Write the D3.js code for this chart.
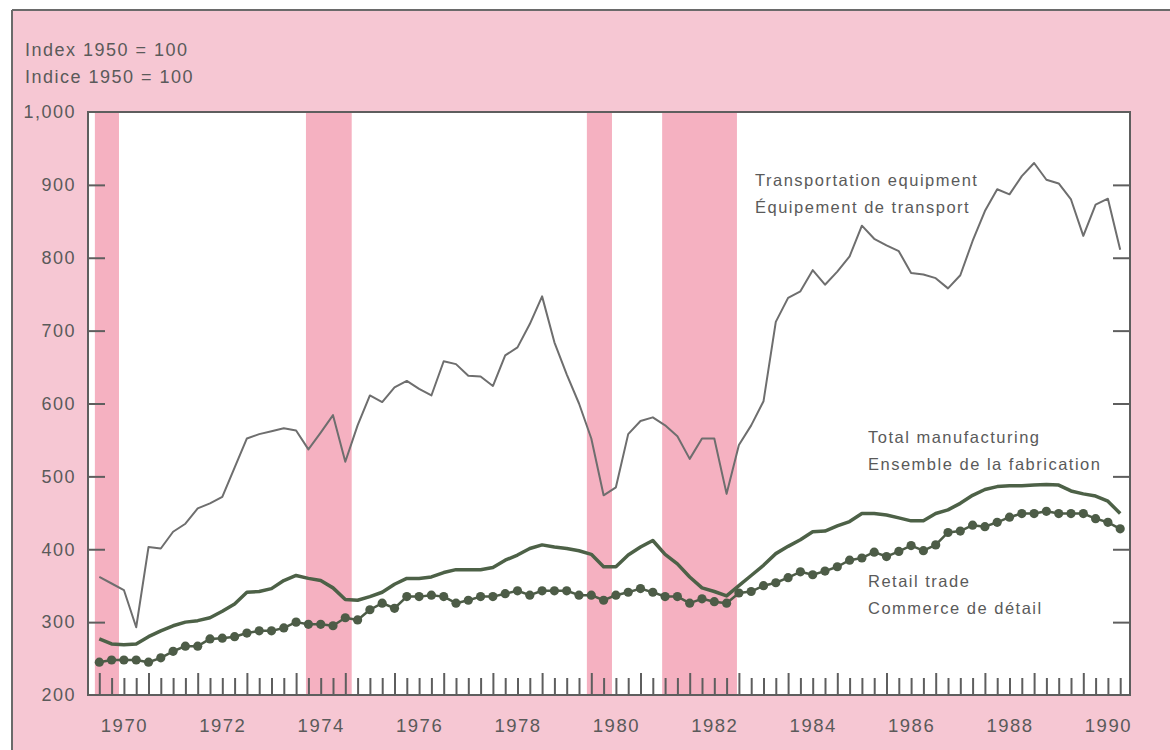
<!DOCTYPE html>
<html>
<head>
<meta charset="utf-8">
<script src="https://cdn.jsdelivr.net/npm/d3@7"></script>
<style>
  html, body { margin: 0; padding: 0; background: #ffffff; }
  svg { display: block; }
  text { font-family: "Liberation Sans", Arial, Helvetica, sans-serif; fill: #5a5a5a; letter-spacing: 1.5px; }
</style>
</head>
<body>
<svg id="chart" width="1170" height="750"></svg>
<script>
// ---------- DATA (quarterly, 1970Q1 - 1990Q4) ----------
const years = d3.range(1970, 1991);
const yearLabels = years.map(String);
const quarters = d3.range(0, 84).map(i => 1970 + i * 0.25);

const transportation = [
  362, 353, 344, 293,
  403, 401, 424, 435,
  456, 463, 472, 512,
  552, 558, 562, 566,
  563, 537, 560, 584,
  520, 570, 611, 602,
  622, 631, 620, 611,
  658, 654, 638, 637,
  624, 666, 677, 709,
  747, 684, 640, 600,
  552, 474, 485, 558,
  576, 581, 570, 555,
  524, 552, 552, 476,
  543, 570, 603, 712,
  745, 754, 783, 763,
  781, 802, 844, 826,
  817, 809, 779, 777,
  772, 758, 776, 823,
  864, 894, 887, 912,
  930, 907, 902, 880,
  830, 873, 881, 811
];

const totalManufacturing = [
  277, 270, 269, 270,
  280, 288, 295, 300,
  302, 306, 315, 325,
  341, 342, 346, 357,
  364, 360, 357, 347,
  331, 330, 335, 341,
  352, 360, 360, 362,
  368, 372, 372, 372,
  375, 385, 392, 401,
  406, 403, 401, 398,
  393, 376, 376, 392,
  403, 412, 393, 380,
  362, 347, 342, 336,
  350, 364, 378, 394,
  404, 413, 424, 425,
  432, 438, 449, 449,
  447, 443, 439, 439,
  449, 454, 463, 474,
  482, 486, 487, 487,
  488, 489, 488, 480,
  476, 473, 466, 449
];

const retailTrade = [
  245, 248, 248, 248,
  245, 251, 260, 267,
  267, 277, 278, 280,
  285, 288, 288, 292,
  300, 297, 297, 295,
  306, 303, 317, 326,
  319, 335, 335, 337,
  335, 326, 330, 335,
  335, 339, 343, 337,
  343, 343, 343, 337,
  337, 330, 337, 341,
  346, 341, 335, 335,
  326, 332, 328, 326,
  340, 342, 350, 354,
  361, 369, 365, 370,
  376, 385, 388, 396,
  390, 397, 405, 398,
  406, 423, 425, 433,
  431, 437, 444, 449,
  449, 452, 449, 449,
  449, 442, 437, 428
];

// recession periods (fractional years)
const recessionStart = [1969.91, 1974.20, 1979.91, 1981.44];
const recessionEnd   = [1970.40, 1975.13, 1980.42, 1982.96];

const yTickValues = [200, 300, 400, 500, 600, 700, 800, 900, 1000];
const yInnerTicks = [300, 400, 500, 600, 700, 800, 900];

const unitLabels = ["Index 1950 = 100", "Indice 1950 = 100"];
const seriesLabels = {
  transportation: ["Transportation equipment", "Équipement de transport"],
  manufacturing: ["Total manufacturing", "Ensemble de la fabrication"],
  retail: ["Retail trade", "Commerce de détail"]
};

// ---------- LAYOUT ----------
const W = 1170, H = 750;
const plotL = 88, plotR = 1130, plotT = 112, plotB = 695;

const x = d3.scaleLinear().domain([1970, 1990]).range([99.3, 1083.3]);
const y = d3.scaleLinear().domain([200, 1000]).range([plotB, plotT]);

const svg = d3.select("#chart");

// outer pink panel
svg.append("rect").attr("x", 12).attr("y", 10).attr("width", W).attr("height", H)
  .attr("fill", "#f6c7d3");
svg.append("line").attr("x1", 12).attr("x2", W).attr("y1", 10).attr("y2", 10)
  .attr("stroke", "#6a6a6a").attr("stroke-width", 2);
svg.append("line").attr("x1", 12).attr("x2", 12).attr("y1", 10).attr("y2", H)
  .attr("stroke", "#6a6a6a").attr("stroke-width", 2);

// plot background
svg.append("rect").attr("x", plotL).attr("y", plotT)
  .attr("width", plotR - plotL).attr("height", plotB - plotT).attr("fill", "#ffffff");

// recession shading
svg.append("g").selectAll("rect").data(recessionStart).join("rect")
  .attr("x", (d, i) => x(d))
  .attr("y", plotT)
  .attr("width", (d, i) => x(recessionEnd[i]) - x(d))
  .attr("height", plotB - plotT)
  .attr("fill", "#f5b1c1");

// frame
svg.append("rect").attr("x", plotL).attr("y", plotT)
  .attr("width", plotR - plotL).attr("height", plotB - plotT)
  .attr("fill", "none").attr("stroke", "#5e5e5e").attr("stroke-width", 2);

// left inner ticks
const leftTicks = svg.append("g").attr("transform", `translate(${plotL},0)`)
  .call(d3.axisRight(y).tickValues(yInnerTicks).tickSize(17).tickFormat(""));
// right inner ticks
const rightTicks = svg.append("g").attr("transform", `translate(${plotR},0)`)
  .call(d3.axisLeft(y).tickValues(yInnerTicks).tickSize(17).tickFormat(""));
[leftTicks, rightTicks].forEach(g => {
  g.select(".domain").remove();
  g.selectAll("line").attr("stroke", "#5e5e5e").attr("stroke-width", 2);
});

// y labels
const yLab = svg.append("g").attr("transform", `translate(${plotL},0)`)
  .call(d3.axisLeft(y).tickValues(yTickValues).tickSize(0).tickPadding(12)
        .tickFormat(d3.format(",")));
yLab.select(".domain").remove();
yLab.selectAll("text").attr("font-size", 18).attr("fill", "#5a5a5a")
  .style("font-family", "'Liberation Sans', Arial, sans-serif");

// x quarterly ticks
const minor = svg.append("g").attr("transform", `translate(0,${plotB})`)
  .call(d3.axisTop(x).tickValues(quarters.filter(q => q % 1 !== 0)).tickSize(17).tickFormat(""));
const major = svg.append("g").attr("transform", `translate(0,${plotB})`)
  .call(d3.axisTop(x).tickValues(years.filter(v => v <= 1990)).tickSize(22).tickFormat(""));
[minor, major].forEach(g => {
  g.select(".domain").remove();
  g.selectAll("line").attr("stroke", "#5e5e5e").attr("stroke-width", 2);
});

// x labels (centered on each even year)
const labelYears = years.filter(v => v % 2 === 0);
const xLab = svg.append("g").attr("transform", `translate(0,${plotB})`)
  .call(d3.axisBottom(x).tickValues(labelYears.map(v => v + 0.5)).tickSize(0).tickPadding(24)
        .tickFormat(d => yearLabels[years.indexOf(Math.floor(d))]));
xLab.select(".domain").remove();
xLab.selectAll("text").attr("font-size", 18.5).attr("fill", "#5a5a5a")
  .style("font-family", "'Liberation Sans', Arial, sans-serif");

// lines
const line = d3.line().x((d, i) => x(quarters[i])).y(d => y(d));

svg.append("path").datum(transportation).attr("d", line)
  .attr("fill", "none").attr("stroke", "#6e6e6e").attr("stroke-width", 2)
  .attr("stroke-linejoin", "round");

svg.append("path").datum(totalManufacturing).attr("d", line)
  .attr("fill", "none").attr("stroke", "#4d6147").attr("stroke-width", 3.5)
  .attr("stroke-linejoin", "round");

svg.append("path").datum(retailTrade).attr("d", line)
  .attr("fill", "none").attr("stroke", "#4d5c47").attr("stroke-width", 2.5)
  .attr("stroke-linejoin", "round");
svg.append("g").selectAll("circle").data(retailTrade).join("circle")
  .attr("cx", (d, i) => x(quarters[i])).attr("cy", d => y(d))
  .attr("r", 4.6).attr("fill", "#4d5c47");

// unit labels
svg.append("g").selectAll("text").data(unitLabels).join("text")
  .attr("x", 25).attr("y", (d, i) => 56 + i * 27)
  .attr("font-size", 18).text(d => d);

// series labels
function addLabel(lines, lx, ly, gap) {
  svg.append("g").selectAll("text").data(lines).join("text")
    .attr("x", lx).attr("y", (d, i) => ly + i * gap)
    .attr("font-size", 16.5).text(d => d);
}
addLabel(seriesLabels.transportation, 755, 186, 27);
addLabel(seriesLabels.manufacturing, 868, 443, 27);
addLabel(seriesLabels.retail, 868, 587, 26.5);
</script>
</body>
</html>
